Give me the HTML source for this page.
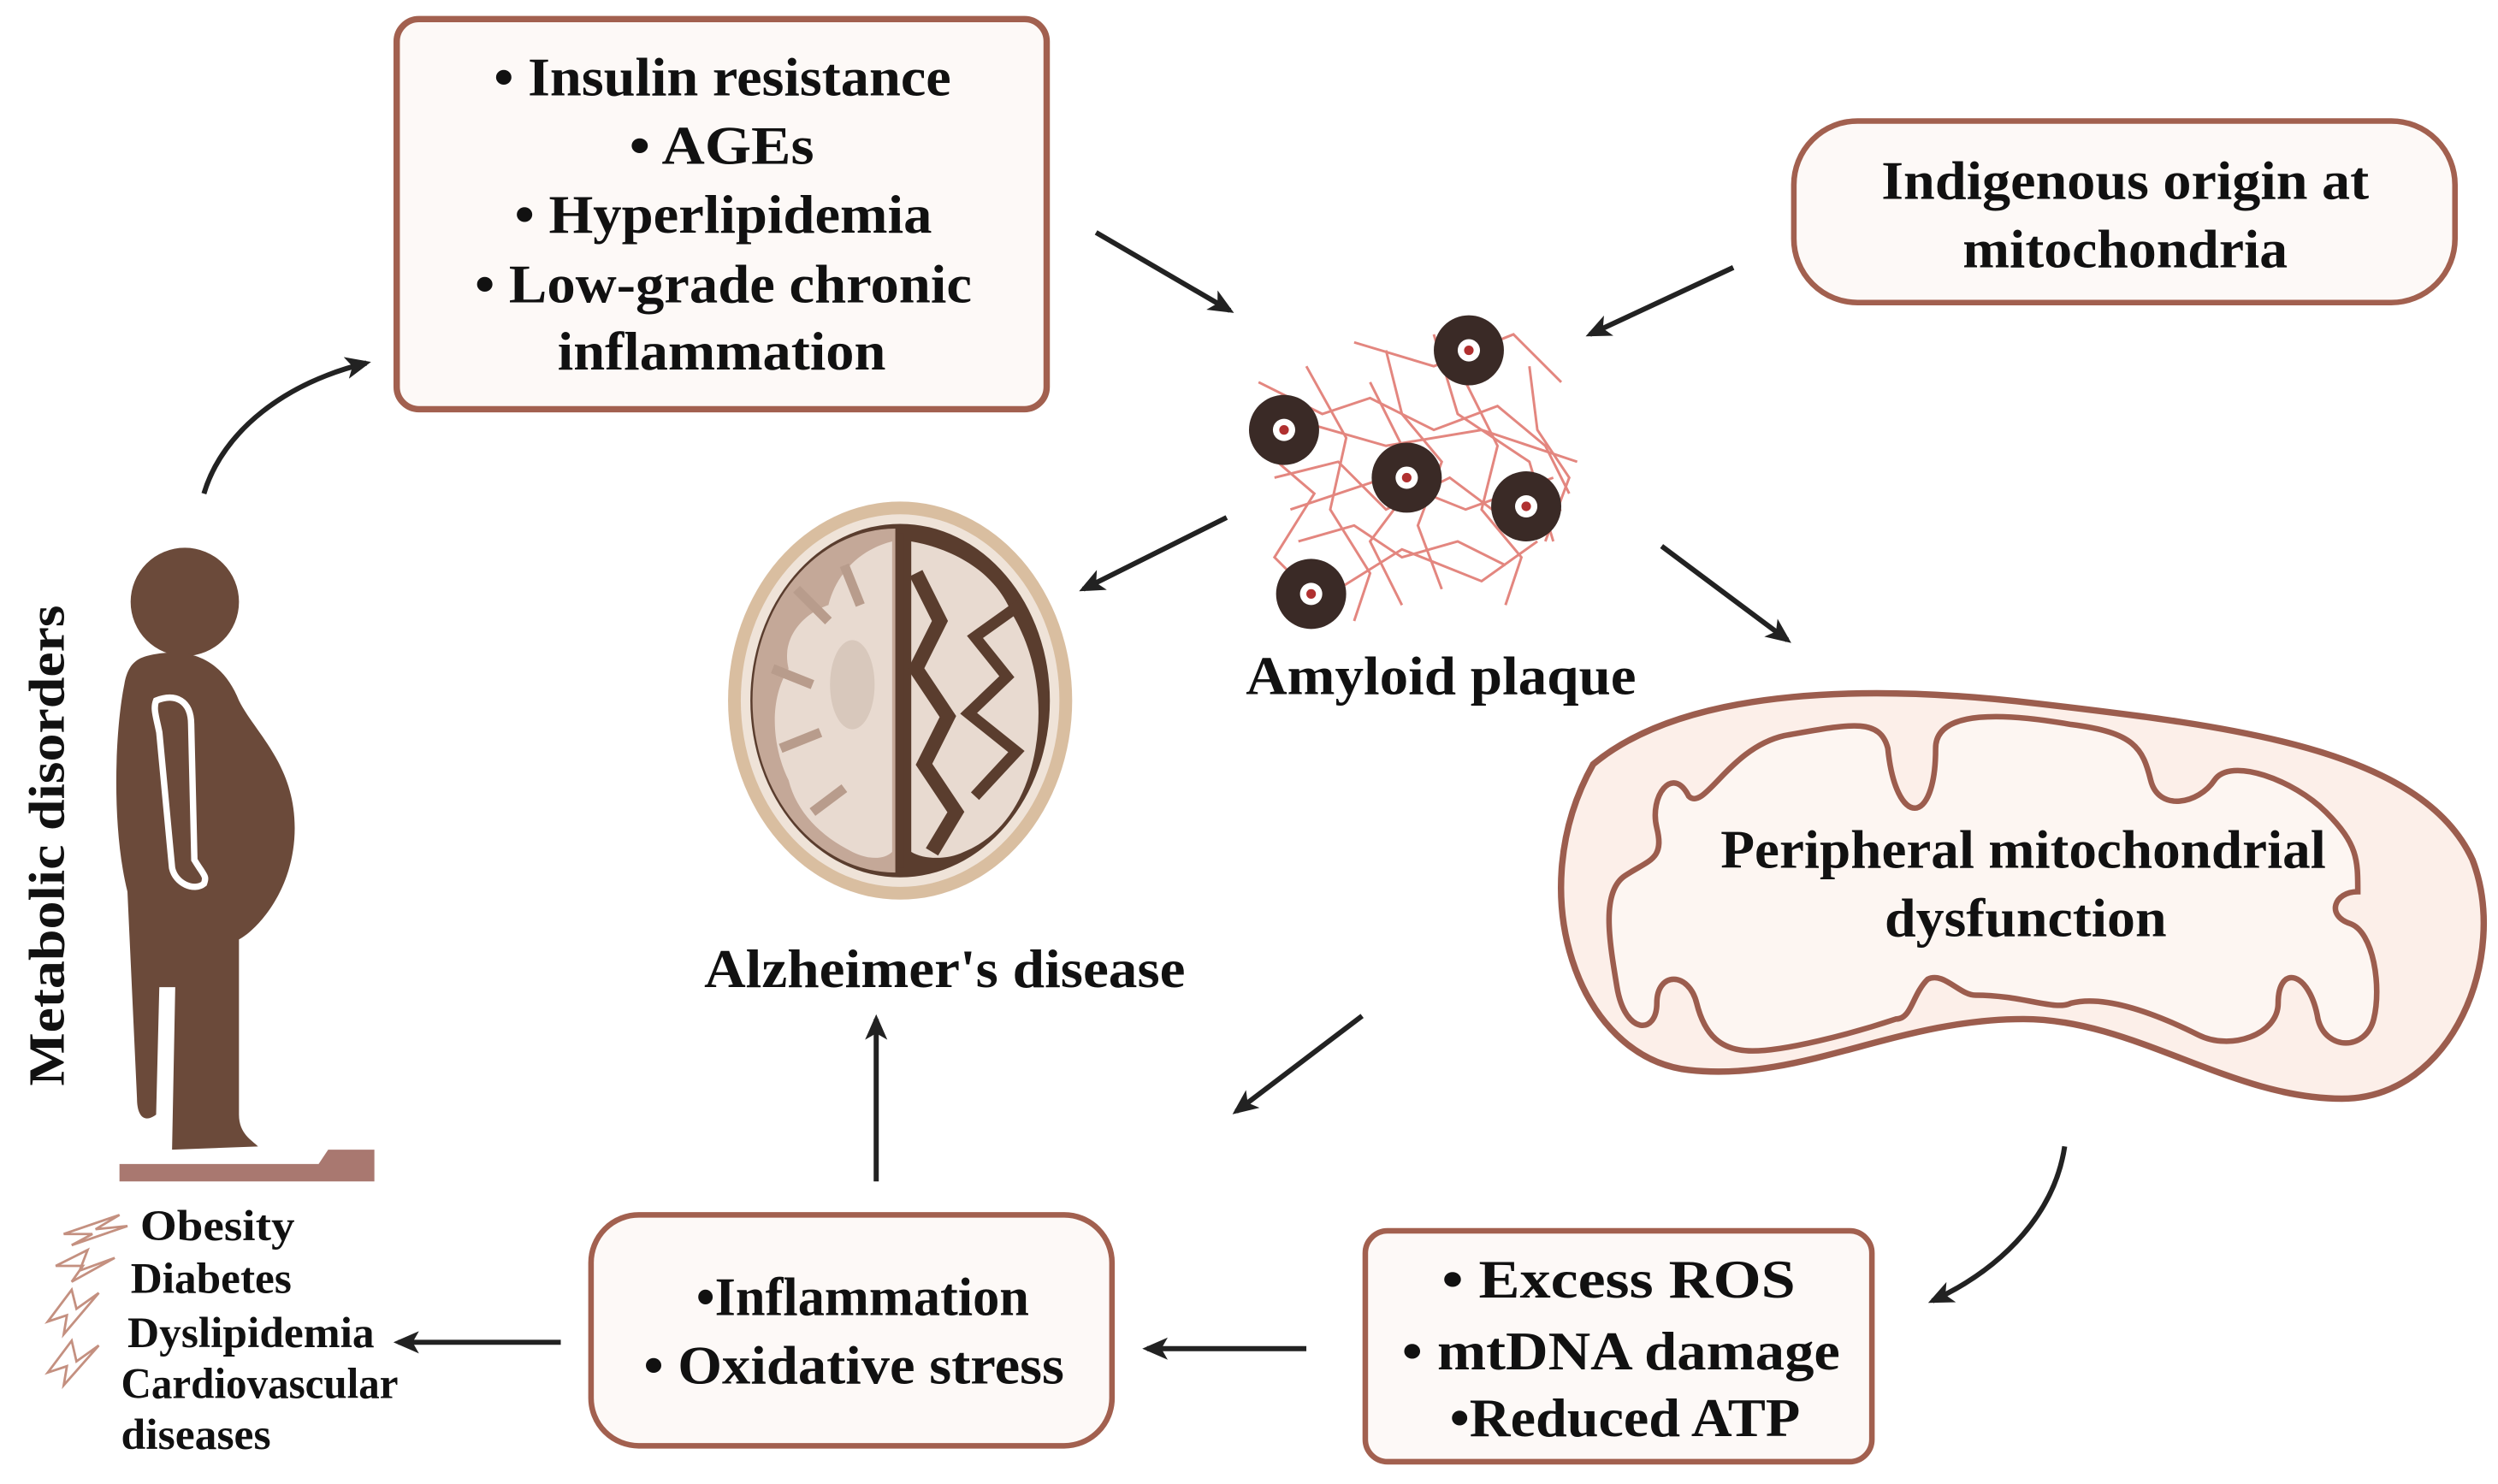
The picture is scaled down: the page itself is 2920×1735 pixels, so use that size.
<!DOCTYPE html>
<html><head><meta charset="utf-8"><style>
html,body{margin:0;padding:0;background:#fff;}
svg{display:block;}
text{font-family:"Liberation Serif",serif;fill:#111;font-weight:bold;}
</style></head><body>
<svg width="2920" height="1735" viewBox="0 0 1568 932" preserveAspectRatio="none" xmlns="http://www.w3.org/2000/svg">
<defs>
<marker id="ah" markerWidth="16" markerHeight="14" refX="13" refY="7" orient="auto" markerUnits="userSpaceOnUse">
<path d="M0,0 L16,7 L0,14 L4,7 z" fill="#222"/>
</marker>
</defs>
<rect width="1568" height="932" fill="#fff"/>

<!-- top box -->
<rect x="249" y="12" width="408" height="245" rx="14" fill="#fdf9f7" stroke="#a2604f" stroke-width="4"/>
<g font-size="34" lengthAdjust="spacingAndGlyphs">
<text x="310" y="60" textLength="287" lengthAdjust="spacingAndGlyphs">• Insulin resistance</text>
<text x="395" y="103" textLength="116" lengthAdjust="spacingAndGlyphs">• AGEs</text>
<text x="323" y="146" textLength="262" lengthAdjust="spacingAndGlyphs">• Hyperlipidemia</text>
<text x="298" y="190" textLength="312" lengthAdjust="spacingAndGlyphs">• Low-grade chronic</text>
<text x="350" y="232" textLength="206" lengthAdjust="spacingAndGlyphs">inflammation</text>
</g>

<!-- indigenous box -->
<rect x="1126" y="76" width="415" height="114" rx="40" fill="#fdf9f7" stroke="#a2604f" stroke-width="3.5"/>
<g font-size="34">
<text x="1181" y="125" textLength="306" lengthAdjust="spacingAndGlyphs">Indigenous origin at</text>
<text x="1232" y="168" textLength="204" lengthAdjust="spacingAndGlyphs">mitochondria</text>
</g>

<!-- amyloid plaque -->
<g stroke="#e07a72" stroke-width="1.6" fill="none" opacity="0.9">
<path d="M790,240 L830,260 L860,250 L900,270 L940,255 L970,280 L985,310"/>
<path d="M800,300 L840,290 L870,320 L910,300 L950,330 L980,320"/>
<path d="M815,340 L850,330 L880,350 L915,340 L945,355"/>
<path d="M820,230 L845,275 L835,320 L860,360 L850,390"/>
<path d="M870,220 L880,260 L905,290 L890,330 L905,370"/>
<path d="M920,240 L940,280 L930,320 L955,350 L945,380"/>
<path d="M960,230 L965,270 L985,300 L970,340"/>
<path d="M790,280 L825,310 L800,350 L830,380"/>
<path d="M850,215 L900,230 L950,210 L980,240"/>
<path d="M800,260 L870,280 L930,270 L990,290"/>
<path d="M810,320 L870,300 L920,320 L975,300"/>
<path d="M840,370 L880,345 L930,365 L965,340"/>
<path d="M860,240 L890,300 L860,340 L880,380"/>
<path d="M900,210 L915,260 L960,290 L975,340"/>
</g>
<g>
<circle cx="922" cy="220" r="22" fill="#3a2a26"/><circle cx="922" cy="220" r="7" fill="#fff"/><circle cx="922" cy="220" r="3" fill="#b03030"/>
<circle cx="806" cy="270" r="22" fill="#3a2a26"/><circle cx="806" cy="270" r="7" fill="#fff"/><circle cx="806" cy="270" r="3" fill="#b03030"/>
<circle cx="883" cy="300" r="22" fill="#3a2a26"/><circle cx="883" cy="300" r="7" fill="#fff"/><circle cx="883" cy="300" r="3" fill="#b03030"/>
<circle cx="958" cy="318" r="22" fill="#3a2a26"/><circle cx="958" cy="318" r="7" fill="#fff"/><circle cx="958" cy="318" r="3" fill="#b03030"/>
<circle cx="823" cy="373" r="22" fill="#3a2a26"/><circle cx="823" cy="373" r="7" fill="#fff"/><circle cx="823" cy="373" r="3" fill="#b03030"/>
</g>
<text x="782" y="436" font-size="34" textLength="245" lengthAdjust="spacingAndGlyphs">Amyloid plaque</text>

<!-- brain -->
<ellipse cx="565" cy="440" rx="108" ry="125" fill="#d9bea0"/>
<ellipse cx="565" cy="440" rx="100" ry="117" fill="#efe3d8"/>
<ellipse cx="565" cy="440" rx="94" ry="111" fill="#5a3d2e"/>
<path d="M562,332 A88,106 0 0,0 562,548 Z" fill="#c4a898"/>
<path d="M560,340 C540,345 525,360 520,380 C505,385 490,400 495,420 C482,440 485,470 495,490 C500,510 515,525 535,535 C545,540 555,540 560,535 Z" fill="#e8dad0"/>
<path d="M572,340 C600,345 625,360 635,385 C650,410 655,440 650,470 C645,500 630,525 605,535 C595,540 580,540 572,535 Z" fill="#e8dad0"/>
<path d="M575,360 L590,390 L575,420 L595,450 L580,480 L600,510 L585,535" stroke="#5a3d2e" stroke-width="9" fill="none"/>
<path d="M640,380 L612,400 L632,425 L608,448 L638,472 L612,500" stroke="#5a3d2e" stroke-width="7" fill="none"/>
<path d="M565,335 L565,545" stroke="#5a3d2e" stroke-width="5"/>
<path d="M500,370 L520,390 M485,420 L510,430 M490,470 L515,460 M510,510 L530,495 M530,355 L540,380" stroke="#b89c8c" stroke-width="6" fill="none"/>
<ellipse cx="535" cy="430" rx="14" ry="28" fill="#d8c8bc"/>
<text x="442" y="620" font-size="34" textLength="302" lengthAdjust="spacingAndGlyphs">Alzheimer's disease</text>

<!-- mitochondria -->
<path d="M1000,480 C1060,430 1180,430 1280,442 C1400,456 1520,470 1552,540 C1575,600 1540,690 1470,690 C1400,690 1340,640 1270,640 C1190,640 1130,680 1060,672 C990,664 955,560 1000,480 Z" fill="#fcefe9" stroke="#9c5d4e" stroke-width="4"/>
<path d="M1040,520 C1035,500 1050,480 1060,500 C1070,510 1085,470 1120,462 C1160,455 1180,450 1185,470 C1190,520 1215,520 1215,470 C1215,445 1260,448 1300,455 C1340,460 1345,470 1350,490 C1355,510 1380,505 1390,490 C1400,475 1440,490 1460,510 C1480,530 1480,540 1480,560 C1465,560 1460,575 1475,580 C1490,585 1495,620 1490,640 C1485,660 1460,660 1455,640 C1450,610 1430,605 1430,630 C1430,650 1400,660 1380,650 C1350,635 1320,625 1300,630 C1290,635 1270,625 1240,625 C1230,625 1220,610 1210,615 C1200,625 1200,640 1190,640 C1160,650 1120,660 1100,660 C1080,660 1070,650 1065,630 C1060,610 1040,610 1040,630 C1040,650 1020,650 1015,620 C1010,590 1005,560 1020,550 C1035,540 1045,540 1040,520 Z" fill="#fdf6f2" stroke="#9c5d4e" stroke-width="3.5"/>
<g font-size="34">
<text x="1080" y="545" textLength="380" lengthAdjust="spacingAndGlyphs">Peripheral mitochondrial</text>
<text x="1183" y="588" textLength="177" lengthAdjust="spacingAndGlyphs">dysfunction</text>
</g>

<!-- ROS box -->
<rect x="857" y="773" width="318" height="145" rx="14" fill="#fdf9f7" stroke="#a2604f" stroke-width="3.5"/>
<g font-size="34">
<text x="905" y="815" textLength="222" lengthAdjust="spacingAndGlyphs">• Excess  ROS</text>
<text x="880" y="860" textLength="275" lengthAdjust="spacingAndGlyphs">• mtDNA damage</text>
<text x="910" y="902" textLength="220" lengthAdjust="spacingAndGlyphs">•Reduced ATP</text>
</g>

<!-- inflammation box -->
<rect x="371" y="763" width="327" height="145" rx="30" fill="#fdf9f7" stroke="#a2604f" stroke-width="3.5"/>
<g font-size="34">
<text x="437" y="826" textLength="209" lengthAdjust="spacingAndGlyphs">•Inflammation</text>
<text x="404" y="869" textLength="264" lengthAdjust="spacingAndGlyphs">• Oxidative stress</text>
</g>

<!-- person -->
<g fill="#6b4a3a">
<circle cx="116" cy="378" r="34"/>
<path d="M92,412 C120,405 140,415 150,440 C160,460 185,480 185,520 C185,560 160,585 150,590 L150,700 C150,712 158,716 162,720 L108,722 L110,620 L100,620 L98,700 C90,706 86,700 86,690 L80,560 C70,520 72,460 78,430 C80,418 85,414 92,412 Z"/>
</g>
<path d="M98,440 C110,435 120,440 120,455 L122,540 C128,550 130,550 128,555 C122,560 110,555 108,545 L100,460 C98,450 96,445 98,440 Z" fill="none" stroke="#fff" stroke-width="4"/>
<path d="M75,731 L200,731 L206,722 L235,722 L235,742 L75,742 Z" fill="#a97870"/>
<text transform="translate(40,682) rotate(-90)" font-size="32" textLength="302" lengthAdjust="spacingAndGlyphs">Metabolic disorders</text>

<!-- legend -->
<g fill="none" stroke="#c49080" stroke-width="1.5">
<path d="M40,775 L75,763 L60,772 L80,770 L45,782 L58,775 Z"/>
<path d="M35,795 L55,785 L50,798 L72,790 L45,805 L52,795 Z"/>
<path d="M30,830 L45,810 L48,822 L62,812 L40,838 L42,826 Z"/>
<path d="M30,862 L45,842 L48,855 L62,845 L40,870 L42,858 Z"/>
</g>
<g font-size="27">
<text x="88" y="779" textLength="97" lengthAdjust="spacingAndGlyphs">Obesity</text>
<text x="82" y="812" textLength="101" lengthAdjust="spacingAndGlyphs">Diabetes</text>
<text x="80" y="846" textLength="155" lengthAdjust="spacingAndGlyphs">Dyslipidemia</text>
<text x="76" y="878" textLength="174" lengthAdjust="spacingAndGlyphs">Cardiovascular</text>
<text x="76" y="910" textLength="94" lengthAdjust="spacingAndGlyphs">diseases</text>
</g>

<!-- arrows -->
<g stroke="#222" stroke-width="3.2" fill="none" marker-end="url(#ah)">
<path d="M128,310 C140,270 180,240 230,228"/>
<path d="M688,146 L772,195"/>
<path d="M1088,168 L998,210"/>
<path d="M770,325 L680,370"/>
<path d="M1043,343 L1122,402"/>
<path d="M855,638 L776,698"/>
<path d="M550,742 L550,640"/>
<path d="M820,847 L720,847"/>
<path d="M352,843 L250,843"/>
<path d="M1296,720 C1290,760 1260,795 1213,817"/>
</g>
</svg>
</body></html>
